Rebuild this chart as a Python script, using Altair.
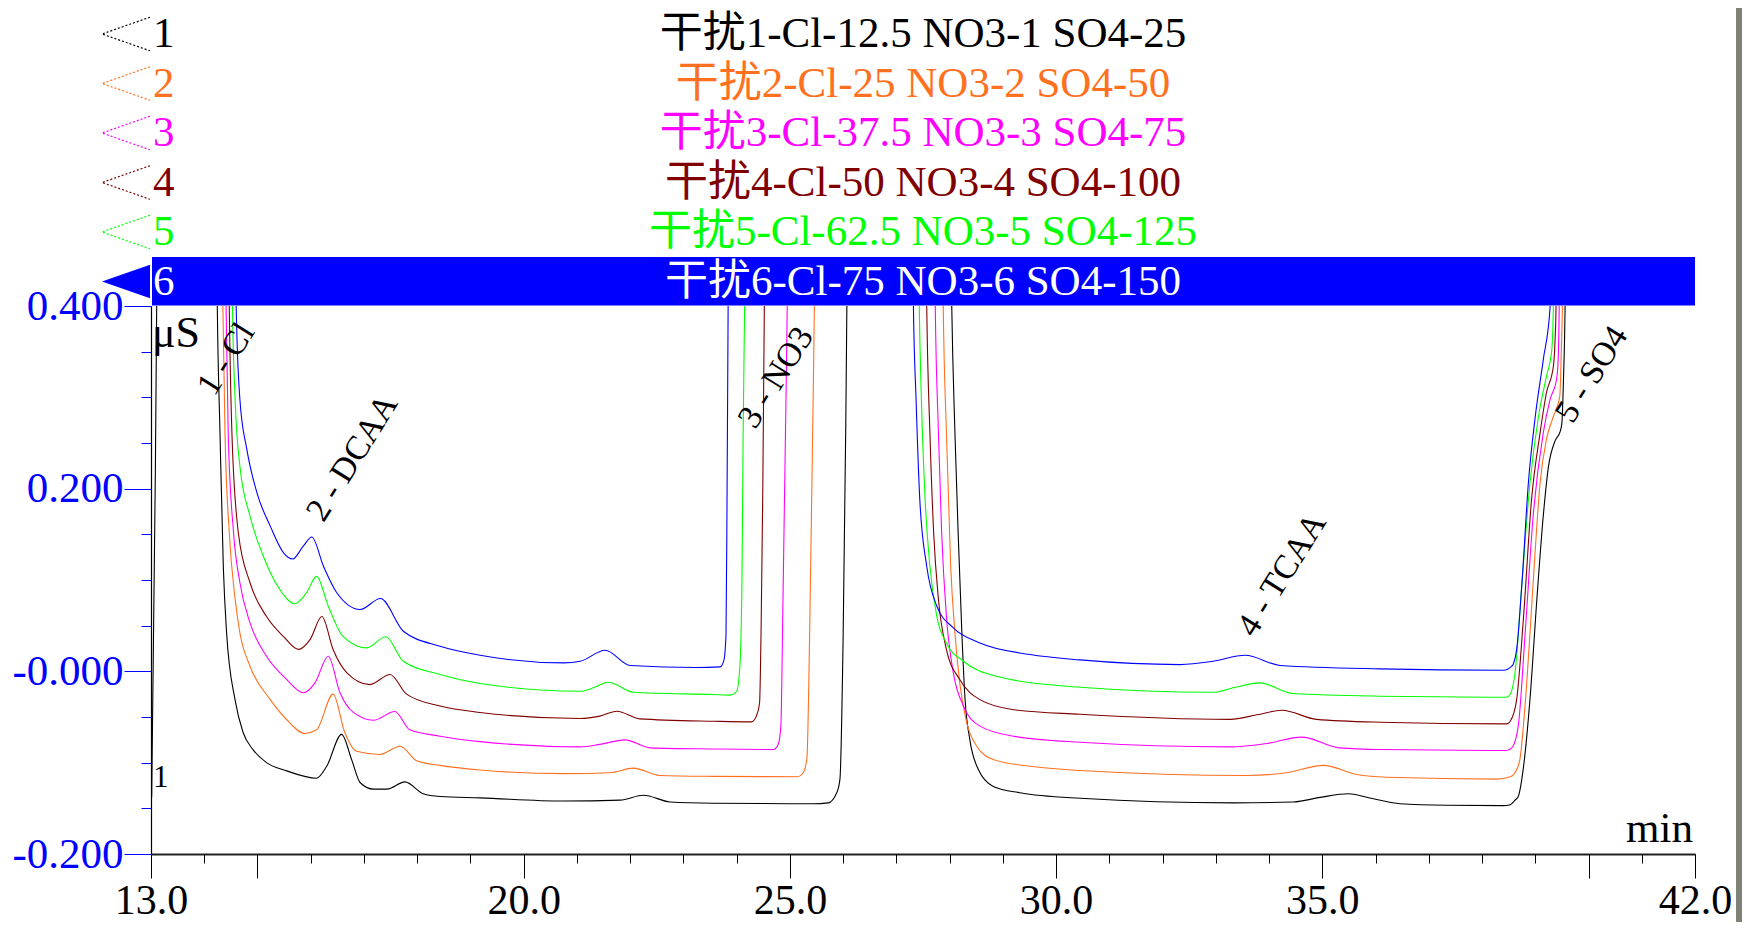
import altair as alt
import pandas as pd

# ---------------- data ----------------
sample_ids = ["1", "2", "3", "4", "5", "6"]
sample_names = [
    "干扰1-Cl-12.5 NO3-1 SO4-25",
    "干扰2-Cl-25 NO3-2 SO4-50",
    "干扰3-Cl-37.5 NO3-3 SO4-75",
    "干扰4-Cl-50 NO3-4 SO4-100",
    "干扰5-Cl-62.5 NO3-5 SO4-125",
    "干扰6-Cl-75 NO3-6 SO4-150",
]
trace_colors = ["#000000", "#FF7020", "#FF00FF", "#800000", "#00FF00", "#0000FF"]
selected_id = "6"

# (time [min], signal [uS]); values above 0.4 are off scale (peak tops)
trace_1 = [
    (13.0, -0.14), (13.013, -0.137), (13.107, 0.40), (13.15, 0.7), (14.2, 0.7),
    (14.245, 0.40), (14.296, 0.261), (14.358, 0.115), (14.42, 0.042), (14.578, -0.031),
    (14.73, -0.067), (14.92, -0.086), (15.17, -0.100), (15.55, -0.109), (16.11, -0.117),
    (16.30, -0.104), (16.58, -0.069), (16.77, -0.097), (16.93, -0.122), (17.18, -0.129),
    (17.43, -0.129), (17.77, -0.121), (18.11, -0.134), (18.43, -0.137), (19.18, -0.1385),
    (20.75, -0.142), (21.81, -0.141), (22.25, -0.1357), (22.75, -0.143), (23.56, -0.1444),
    (25.44, -0.145), (25.72, -0.144), (25.88, -0.133), (25.94, -0.118), (26.00, 0.038),
    (26.05, 0.272), (26.07, 0.40), (26.12, 0.7), (27.98, 0.7), (28.04, 0.40),
    (28.10, 0.261), (28.16, 0.152), (28.23, 0.042), (28.29, -0.031), (28.38, -0.075),
    (28.54, -0.1075), (28.82, -0.126), (29.32, -0.133), (30.45, -0.139), (33.33, -0.144),
    (34.46, -0.143), (34.96, -0.138), (35.49, -0.134), (35.96, -0.1396), (36.46, -0.145),
    (37.34, -0.1466), (38.40, -0.147), (38.53, -0.146), (38.62, -0.141), (38.68, -0.137),
    (38.78, -0.104), (38.90, -0.031), (39.03, 0.079), (39.15, 0.170), (39.25, 0.225),
    (39.37, 0.252), (39.47, 0.263), (39.50, 0.272), (39.53, 0.32), (39.56, 0.40),
    (39.60, 0.7), (42.0, 0.7),
]
trace_2 = [
    (13.0, 0.7), (14.3, 0.7), (14.35, 0.40), (14.39, 0.261), (14.47, 0.152),
    (14.58, 0.079), (14.67, 0.042), (14.86, 0.0056), (15.24, -0.031), (15.55, -0.053),
    (15.89, -0.068), (16.11, -0.064), (16.42, -0.025), (16.64, -0.067), (16.86, -0.0875),
    (17.30, -0.091), (17.68, -0.082), (17.99, -0.098), (18.43, -0.103), (19.18, -0.108),
    (20.75, -0.112), (21.62, -0.111), (22.06, -0.106), (22.56, -0.114), (23.56, -0.115),
    (25.13, -0.1155), (25.25, -0.111), (25.32, -0.095), (25.37, 0.038), (25.43, 0.272),
    (25.46, 0.40), (25.51, 0.7), (27.83, 0.7), (27.88, 0.40), (27.94, 0.261),
    (28.02, 0.115), (28.10, 0.042), (28.19, -0.0126), (28.32, -0.056), (28.51, -0.082),
    (28.82, -0.0966), (29.51, -0.104), (30.45, -0.1086), (33.58, -0.114), (34.33, -0.111),
    (35.02, -0.103), (35.65, -0.113), (36.21, -0.116), (38.28, -0.118), (38.53, -0.1155),
    (38.62, -0.111), (38.71, -0.0966), (38.84, -0.0126), (38.96, 0.097), (39.09, 0.206),
    (39.21, 0.254), (39.34, 0.279), (39.46, 0.301), (39.49, 0.352), (39.51, 0.40),
    (39.55, 0.7), (42.0, 0.7),
]
trace_3 = [
    (13.0, 0.7), (14.36, 0.7), (14.41, 0.40), (14.45, 0.261), (14.55, 0.152),
    (14.67, 0.097), (14.86, 0.053), (15.17, 0.0165), (15.55, -0.009), (15.86, -0.0235),
    (16.08, -0.0126), (16.33, 0.0165), (16.55, -0.0235), (16.80, -0.045), (17.18, -0.0535),
    (17.58, -0.044), (17.86, -0.064), (18.43, -0.071), (19.18, -0.077), (21.06, -0.0827),
    (21.43, -0.080), (21.90, -0.075), (22.38, -0.0838), (23.56, -0.085), (24.69, -0.0856),
    (24.78, -0.080), (24.83, -0.060), (24.87, 0.078), (24.93, 0.312), (24.95, 0.40),
    (25.0, 0.7), (27.68, 0.7), (27.73, 0.40), (27.79, 0.261), (27.85, 0.152),
    (27.94, 0.060), (28.07, -0.0016), (28.26, -0.038), (28.57, -0.060), (29.20, -0.071),
    (30.45, -0.0776), (33.27, -0.0827), (33.96, -0.079), (34.61, -0.072), (35.32, -0.0838),
    (36.08, -0.0856), (38.46, -0.0867), (38.56, -0.0838), (38.68, -0.060), (38.81, 0.042),
    (38.96, 0.170), (39.15, 0.261), (39.28, 0.298), (39.40, 0.3195), (39.43, 0.341),
    (39.45, 0.40), (39.49, 0.7), (42.0, 0.7),
]
trace_4 = [
    (13.0, 0.7), (14.42, 0.7), (14.47, 0.40), (14.52, 0.261), (14.64, 0.152),
    (14.86, 0.097), (15.17, 0.060), (15.49, 0.038), (15.77, 0.024), (15.99, 0.035),
    (16.21, 0.060), (16.42, 0.024), (16.68, -0.0016), (17.11, -0.0145), (17.49, -0.0035),
    (17.80, -0.025), (18.43, -0.038), (19.18, -0.045), (21.06, -0.0517), (21.43, -0.049),
    (21.75, -0.0437), (22.18, -0.052), (23.56, -0.0546), (24.28, -0.0553), (24.37, -0.049),
    (24.43, -0.035), (24.46, 0.05), (24.49, 0.195), (24.52, 0.40), (24.57, 0.7),
    (27.52, 0.7), (27.57, 0.40), (27.63, 0.261), (27.70, 0.152), (27.79, 0.079),
    (27.94, 0.024), (28.19, -0.009), (28.57, -0.031), (29.20, -0.042), (30.45, -0.047),
    (33.27, -0.0526), (33.77, -0.0476), (34.24, -0.0426), (34.89, -0.0526), (36.08, -0.0557),
    (38.46, -0.0575), (38.53, -0.0546), (38.65, -0.031), (38.78, 0.060), (38.93, 0.188),
    (39.09, 0.261), (39.21, 0.305), (39.34, 0.334), (39.37, 0.360), (39.39, 0.40),
    (39.43, 0.7), (42.0, 0.7),
]
trace_5 = [
    (13.0, 0.7), (14.48, 0.7), (14.53, 0.40), (14.58, 0.2976), (14.67, 0.2246),
    (14.86, 0.170), (15.11, 0.126), (15.42, 0.0896), (15.70, 0.074), (15.92, 0.086),
    (16.11, 0.104), (16.33, 0.0713), (16.61, 0.038), (17.05, 0.0257), (17.41, 0.0378),
    (17.74, 0.011), (18.43, -0.0035), (19.18, -0.0134), (21.06, -0.0218), (21.31, -0.018),
    (21.59, -0.012), (22.06, -0.0229), (23.56, -0.0254), (23.88, -0.026), (24.00, -0.0218),
    (24.06, 0.005), (24.10, 0.10), (24.12, 0.25), (24.15, 0.40), (24.20, 0.7),
    (27.38, 0.7), (27.43, 0.40), (27.47, 0.2976), (27.54, 0.188), (27.63, 0.115),
    (27.76, 0.060), (27.94, 0.031), (28.26, 0.011), (28.88, -0.0054), (30.45, -0.0174),
    (32.95, -0.0229), (33.33, -0.018), (33.82, -0.0126), (34.45, -0.0243), (36.08, -0.0272),
    (38.46, -0.0284), (38.53, -0.025), (38.62, -0.0016), (38.75, 0.097), (38.90, 0.206),
    (39.06, 0.279), (39.21, 0.323), (39.31, 0.352), (39.34, 0.40), (39.38, 0.7),
    (42.0, 0.7),
]
trace_6 = [
    (13.0, 0.7), (14.55, 0.7), (14.60, 0.40), (14.67, 0.2976), (14.80, 0.243),
    (14.99, 0.1954), (15.24, 0.159), (15.49, 0.1297), (15.66, 0.123), (15.86, 0.137),
    (16.02, 0.147), (16.24, 0.115), (16.49, 0.086), (16.93, 0.0677), (17.31, 0.0797),
    (17.74, 0.0439), (18.43, 0.0275), (19.18, 0.0176), (20.75, 0.0093), (21.06, 0.011),
    (21.53, 0.0231), (22.00, 0.0064), (23.25, 0.0042), (23.69, 0.0049), (23.76, 0.012),
    (23.80, 0.04), (23.82, 0.195), (23.84, 0.40), (23.89, 0.7), (27.27, 0.7),
    (27.32, 0.40), (27.37, 0.2976), (27.44, 0.188), (27.57, 0.115), (27.76, 0.0713),
    (28.07, 0.0476), (28.57, 0.031), (29.51, 0.0184), (30.45, 0.0125), (32.33, 0.0074),
    (32.95, 0.011), (33.55, 0.0176), (34.21, 0.0064), (36.08, 0.0027), (38.40, 0.0012),
    (38.56, 0.0056), (38.65, 0.024), (38.75, 0.097), (38.87, 0.206), (39.00, 0.279),
    (39.15, 0.341), (39.28, 0.40), (39.32, 0.7), (42.0, 0.7),
]
traces = [trace_1, trace_2, trace_3, trace_4, trace_5, trace_6]

peak_names = ["1 - Cl", "2 - DCAA", "3 - NO3", "4 - TCAA", "5 - SO4"]
peak_times = [14.19, 16.24, 24.35, 33.72, 39.70]
peak_heights = [0.300, 0.162, 0.264, 0.036, 0.270]

x_major_ticks = [13, 15, 20, 25, 30, 35, 40, 42]
x_minor_ticks = list(range(13, 43))
y_major_ticks = [-0.2, 0.0, 0.2, 0.4]
y_minor_ticks = [-0.2, -0.15, -0.1, -0.05, 0.0, 0.05, 0.1, 0.15, 0.2, 0.25, 0.3, 0.35, 0.4]

# ---------------- tables ----------------
rows = []
for sid, tr in zip(sample_ids, traces):
    for i, (t, v) in enumerate(tr):
        rows.append({"s": sid, "i": i, "t": t, "v": v})
trace_df = pd.DataFrame(rows)

legend_df = pd.DataFrame({
    "k": list(range(len(sample_ids))),
    "sid": sample_ids,
    "name": sample_names,
    "col": trace_colors,
    "sel": [s == selected_id for s in sample_ids],
})
peak_df = pd.DataFrame({"name": peak_names, "t": peak_times, "v": peak_heights})
one = pd.DataFrame({"a": [0]})

SERIF = "Liberation Serif"
LEG_FONT = "Liberation Serif, Noto Sans CJK SC"
BLUE = "#0000FF"

xscale = alt.Scale(domain=[13, 42], nice=False, zero=False)
yscale = alt.Scale(domain=[-0.2, 0.4], nice=False, zero=False)

x_major_axis = alt.Axis(
    orient="bottom", values=x_major_ticks, tickSize=24, tickColor="#000000", tickWidth=1,
    domainColor="#222222", domainWidth=2, labelFont=SERIF, labelFontSize=42,
    labelColor="#000000", labelPadding=2, labelFlush=False, labelOverlap=False,
    labelExpr="(datum.value == 15 || datum.value == 40) ? '' : format(datum.value, '.1f')",
    grid=False, title=None, zindex=1,
)
x_minor_axis = alt.Axis(
    orient="bottom", values=x_minor_ticks, tickSize=9, tickColor="#000000", tickWidth=1,
    domain=False, labels=False, grid=False, title=None, zindex=1,
)
y_major_axis = alt.Axis(
    orient="left", values=y_major_ticks, tickSize=27, tickColor=BLUE, tickWidth=1,
    domainColor="#000000", domainWidth=1.2, labelFont=SERIF, labelFontSize=43,
    labelColor=BLUE, labelPadding=1, labelFlush=False, labelOverlap=False,
    labelExpr="datum.value == 0 ? '-0.000' : (datum.value < 0 ? '-' + format(-datum.value, '.3f') : format(datum.value, '.3f'))",
    grid=False, title=None, zindex=1,
)
y_minor_axis = alt.Axis(
    orient="left", values=y_minor_ticks, tickSize=10, tickColor=BLUE, tickWidth=1,
    domain=False, labels=False, grid=False, title=None, zindex=1,
)

# white panel
panel = alt.Chart(one).mark_rect(color="#FFFFFF").encode(
    x=alt.value(-143), x2=alt.value(1585), y=alt.value(-298), y2=alt.value(616)
)

legend_base = alt.Chart(legend_df).transform_calculate(
    yc="-272 + 49.5 * datum.k",
    tc="datum.sel ? '#FFFFFF' : datum.col",
)

sel_bar = legend_base.transform_filter("datum.sel").transform_calculate(
    ya="datum.yc - 24.5", yb="datum.yc + 24"
).mark_rect().encode(
    x=alt.value(1), x2=alt.value(1544),
    y=alt.Y("ya:Q", scale=None), y2="yb:Q",
    fill=alt.Fill("col:N", scale=None, legend=None),
)

lines = alt.Chart(trace_df).mark_line(clip=True, interpolate="monotone", strokeWidth=1.1).encode(
    x=alt.X("t:Q", scale=xscale, axis=x_major_axis),
    y=alt.Y("v:Q", scale=yscale, axis=y_major_axis),
    color=alt.Color("s:N", scale=alt.Scale(domain=sample_ids, range=trace_colors), legend=None),
    order=alt.Order("i:Q"),
)

peaks = alt.Chart(peak_df).mark_text(
    font=SERIF, fontSize=34, angle=302, align="left", baseline="alphabetic", color="#000000"
).encode(
    x=alt.X("t:Q", scale=xscale, axis=x_minor_axis),
    y=alt.Y("v:Q", scale=yscale, axis=y_minor_axis),
    text="name:N",
)

leg_names = legend_base.mark_text(
    font=LEG_FONT, fontSize=43, align="center", baseline="middle"
).encode(
    x=alt.value(772), y=alt.Y("yc:Q", scale=None), text="name:N",
    fill=alt.Fill("tc:N", scale=None, legend=None),
)
leg_ids = legend_base.mark_text(
    font=SERIF, fontSize=43, align="left", baseline="middle"
).encode(
    x=alt.value(2), y=alt.Y("yc:Q", scale=None), text="sid:N",
    fill=alt.Fill("tc:N", scale=None, legend=None),
)
leg_tri_open = legend_base.transform_filter("!datum.sel").mark_point(
    shape="M 1 -0.7 L -1 0 L 1 0.7", filled=False, size=2304, strokeWidth=1.2,
    strokeDash=[2, 2], opacity=1,
).encode(
    x=alt.value(-25), y=alt.Y("yc:Q", scale=None),
    stroke=alt.Stroke("col:N", scale=None, legend=None),
)
leg_tri_fill = legend_base.transform_filter("datum.sel").mark_point(
    shape="M 1 -0.7 L -1 0 L 1 0.7 Z", filled=True, size=2304, opacity=1,
).encode(
    x=alt.value(-25), y=alt.Y("yc:Q", scale=None),
    fill=alt.Fill("col:N", scale=None, legend=None),
)

unit_y = alt.Chart(one).mark_text(
    text="μS", font=SERIF, fontSize=44, align="left", baseline="alphabetic", color="#000000"
).encode(x=alt.value(1), y=alt.value(41))
unit_x = alt.Chart(one).mark_text(
    text="min", font=SERIF, fontSize=43, align="right", baseline="alphabetic", color="#000000"
).encode(x=alt.value(1542), y=alt.value(536))
trace_tag = alt.Chart(one).mark_text(
    text="1", font=SERIF, fontSize=31, align="left", baseline="alphabetic", color="#000000"
).encode(x=alt.value(2), y=alt.value(481))

chart = alt.layer(
    panel, sel_bar, lines, peaks, leg_names, leg_ids, leg_tri_open, leg_tri_fill,
    unit_y, unit_x, trace_tag,
).resolve_scale(
    x="independent", y="independent", color="independent"
).resolve_axis(
    x="independent", y="independent"
).properties(
    width=1544, height=548,
    padding={"left": 143, "top": 298, "right": 47, "bottom": 68},
    autosize=alt.AutoSizeParams(type="none"),
).configure(
    background="#7F8377"
).configure_view(
    stroke="#555555", strokeWidth=1
)

chart.save("out.html", embed_options={"renderer": "svg", "actions": False})
